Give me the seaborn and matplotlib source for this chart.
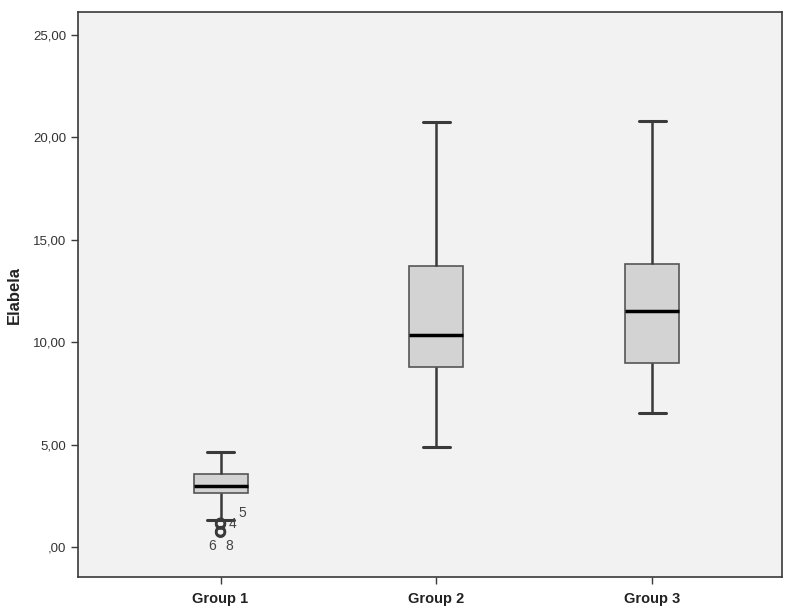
import numpy as np
import pandas as pd
import matplotlib
matplotlib.use("Agg")
import matplotlib.pyplot as plt
from matplotlib.ticker import FuncFormatter
import seaborn as sns

# Box summary per group
groups = ["Group 1", "Group 2", "Group 3"]
whisker_low = [1.32, 4.88, 6.54]
q1 = [2.64, 8.79, 8.98]
median = [2.98, 10.35, 11.52]
q3 = [3.56, 13.72, 13.82]
whisker_high = [4.64, 20.75, 20.80]

# Outliers in Group 1 with case labels
outlier_group = ["Group 1", "Group 1", "Group 1", "Group 1"]
outlier_values = [1.17, 1.12, 0.76, 0.72]
outlier_labels = ["5", "4", "6", "8"]

# five values per group -> quartiles land exactly on the summary
rows = []
for i, g in enumerate(groups):
    for v in [whisker_low[i], q1[i], median[i], q3[i], whisker_high[i]]:
        rows.append({"group": g, "Elabela": v})
data = pd.DataFrame(rows)
outliers = pd.DataFrame({"group": outlier_group, "Elabela": outlier_values})

sns.set_style("white")
plt.rcParams["font.family"] = ["Liberation Sans", "DejaVu Sans"]

fig = plt.figure(figsize=(8, 6.08), dpi=100)
ax = fig.add_axes([0.0975, 0.051, 0.88, 0.929])
ax.set_facecolor("#f2f2f2")

line_col = "#3a3a3a"
sns.boxplot(data=data, x="group", y="Elabela", order=groups, whis=np.inf,
            width=0.25, color="#d3d3d3", linewidth=1.2, linecolor=line_col,
            medianprops={"color": "black", "linewidth": 2.5},
            whiskerprops={"color": line_col, "linewidth": 1.8},
            capprops={"color": line_col, "linewidth": 2.2},
            boxprops={"edgecolor": "#555555", "linewidth": 1.2},
            ax=ax)

sns.scatterplot(data=outliers, x="group", y="Elabela", marker="o", s=40,
                facecolor="none", edgecolor=line_col, linewidth=1.8,
                ax=ax, legend=False)

offsets = [(16, 7), (8.5, 0), (-6, -10.5), (6.5, -10)]
for v, lab, off in zip(outlier_values, outlier_labels, offsets):
    ax.annotate(lab, (0, v), xytext=off, textcoords="offset points",
                fontsize=10, color="#444444", ha="center", va="center")

ax.set_xlim(-0.66, 2.6)
ax.set_ylim(-1.46, 26.12)
ax.set_yticks([0, 5, 10, 15, 20, 25])


def comma_fmt(v, pos):
    s = f"{v:.2f}".replace(".", ",")
    if s.startswith("0,"):
        s = s[1:]
    return s


ax.yaxis.set_major_formatter(FuncFormatter(comma_fmt))
ax.tick_params(axis="y", direction="out", length=5, width=1, color=line_col,
               labelsize=9.5, labelcolor="#333333", left=True)
ax.tick_params(axis="x", direction="out", length=5, width=1, color=line_col,
               labelsize=10.5, labelcolor="#222222", bottom=True, pad=6)
for lbl in ax.get_xticklabels():
    lbl.set_fontweight("bold")

ax.set_xlabel("")
ax.set_ylabel("Elabela", fontsize=12, fontweight="bold", color="#222222", labelpad=8)

for sp in ax.spines.values():
    sp.set_visible(True)
    sp.set_color(line_col)
    sp.set_linewidth(1.2)

fig.savefig("out.png", dpi=100, facecolor="white")
